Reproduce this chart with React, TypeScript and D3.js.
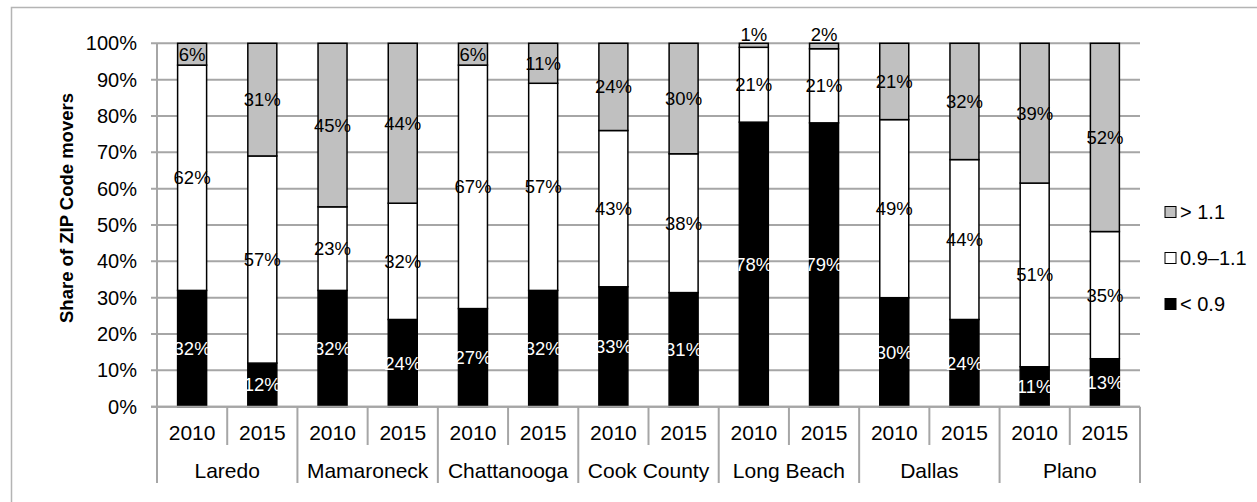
import React, { useRef, useEffect } from 'react';
import * as d3 from 'd3';

const cities = ['Laredo', 'Mamaroneck', 'Chattanooga', 'Cook County', 'Long Beach', 'Dallas', 'Plano'];
const years = ['2010', '2015'];

// one entry per bar, city-major order
const below09 = [32, 12, 32, 24, 27, 32, 33, 31.4, 78.3, 78.5, 30, 24, 11, 13.2];
const mid = [62, 57, 23, 32, 67, 57, 43, 38.2, 20.6, 20.5, 49, 44, 50.6, 35];
const above11 = [6, 31, 45, 44, 6, 11, 24, 30.4, 1.1, 1.5, 21, 32, 38.5, 51.8];

const seriesKeys = ['low', 'mid', 'high'];
const seriesNames = ['< 0.9', '0.9–1.1', '> 1.1'];
const seriesColors = ['#000000', '#ffffff', '#c0c0c0'];
const yTicks = [0, 0.1, 0.2, 0.3, 0.4, 0.5, 0.6, 0.7, 0.8, 0.9, 1];

type Row = { id: string; city: string; year: string; low: number; mid: number; high: number };

const rows: Row[] = [];
cities.forEach((c, ci) => {
  years.forEach((yr, yi) => {
    const i = ci * 2 + yi;
    rows.push({ id: c + '-' + yr, city: c, year: yr, low: below09[i], mid: mid[i], high: above11[i] });
  });
});

const Chart: React.FC = () => {
  const svgRef = useRef<SVGSVGElement | null>(null);

  useEffect(() => {
    if (!svgRef.current) return;
    const svg = d3.select(svgRef.current);
    svg.selectAll('*').remove();

    const width = 1257;
    const height = 502;
    const left = 157, right = 1140, top = 43.3, bottom = 406.7;
    const font = '"Liberation Sans", Arial, sans-serif';
    const grid = '#a6a6a6';

    // outer frame (runs off the picture on the right and bottom)
    svg.append('rect')
      .attr('x', 11.5).attr('y', 7.5)
      .attr('width', 1300).attr('height', 600)
      .attr('fill', 'white').attr('stroke', '#b4b4b4').attr('stroke-width', 1.5);

    const x = d3.scaleBand()
      .domain(rows.map(d => d.id))
      .range([left, right])
      .paddingInner(0)
      .paddingOuter(0);

    const y = d3.scaleLinear().domain([0, 1]).range([bottom, top]);

    // gridlines
    svg.append('g')
      .selectAll('line')
      .data(yTicks)
      .join('line')
      .attr('x1', left - 6).attr('x2', right)
      .attr('y1', d => y(d)).attr('y2', d => y(d))
      .attr('stroke', grid).attr('stroke-width', 2);

    svg.append('line')
      .attr('x1', left).attr('x2', left)
      .attr('y1', top).attr('y2', bottom)
      .attr('stroke', grid).attr('stroke-width', 2);

    // y tick labels
    svg.append('g')
      .selectAll('text')
      .data(yTicks)
      .join('text')
      .attr('x', 137)
      .attr('y', d => y(d))
      .attr('dy', '0.35em')
      .attr('text-anchor', 'end')
      .attr('font-family', font)
      .attr('font-size', 20)
      .attr('fill', '#000')
      .text(d => d3.format('.0%')(d));

    // y title
    svg.append('text')
      .attr('transform', 'translate(73,208) rotate(-90)')
      .attr('text-anchor', 'middle')
      .attr('font-family', font)
      .attr('font-size', 18.5)
      .attr('font-weight', 'bold')
      .attr('fill', '#000')
      .text('Share of ZIP Code movers');

    // stacked bars
    const stack = d3.stack<Row>().keys(seriesKeys).offset(d3.stackOffsetExpand);
    const layers = stack(rows);
    const bw = 29;

    const layerG = svg.append('g')
      .selectAll('g')
      .data(layers)
      .join('g')
      .attr('fill', (_, i) => seriesColors[i]);

    layerG.selectAll('rect')
      .data(d => d)
      .join('rect')
      .attr('x', d => x(d.data.id)! + x.bandwidth() / 2 - bw / 2)
      .attr('width', bw)
      .attr('y', d => y(d[1]))
      .attr('height', d => y(d[0]) - y(d[1]))
      .attr('stroke', '#000')
      .attr('stroke-width', 1.5);

    // data labels
    layers.forEach((layer, li) => {
      svg.append('g')
        .selectAll('text')
        .data(layer)
        .join('text')
        .attr('x', d => x(d.data.id)! + x.bandwidth() / 2)
        .attr('y', d => {
          const share = d[1] - d[0];
          if (share < 0.03) return y(d[1]) - 9;
          return y((d[0] + d[1]) / 2);
        })
        .attr('dy', '0.35em')
        .attr('text-anchor', 'middle')
        .attr('font-family', font)
        .attr('font-size', 18.5)
        .attr('fill', li === 0 ? '#fff' : '#000')
        .text(d => Math.round((d.data as any)[seriesKeys[li]]) + '%');
    });

    // x axis
    svg.append('line')
      .attr('x1', left - 6).attr('x2', right)
      .attr('y1', bottom).attr('y2', bottom)
      .attr('stroke', grid).attr('stroke-width', 2);

    const xa = svg.append('g');
    rows.forEach((r, i) => {
      const x0 = x(r.id)!;
      const isCityEdge = i % 2 === 0;
      xa.append('line')
        .attr('x1', x0).attr('x2', x0)
        .attr('y1', bottom).attr('y2', isCityEdge ? 483 : 445)
        .attr('stroke', grid).attr('stroke-width', 2);
    });
    xa.append('line')
      .attr('x1', right).attr('x2', right)
      .attr('y1', bottom).attr('y2', 483)
      .attr('stroke', grid).attr('stroke-width', 2);

    xa.selectAll('text.year')
      .data(rows)
      .join('text')
      .attr('class', 'year')
      .attr('x', d => x(d.id)! + x.bandwidth() / 2)
      .attr('y', 440)
      .attr('text-anchor', 'middle')
      .attr('font-family', font)
      .attr('font-size', 21)
      .attr('fill', '#000')
      .text(d => d.year);

    xa.selectAll('text.city')
      .data(cities)
      .join('text')
      .attr('class', 'city')
      .attr('x', c => x(c + '-2010')! + x.bandwidth())
      .attr('y', 478)
      .attr('text-anchor', 'middle')
      .attr('font-family', font)
      .attr('font-size', 21)
      .attr('fill', '#000')
      .text(c => c);

    // legend, top item is the top series
    const legendOrder = [2, 1, 0];
    const lg = svg.append('g')
      .selectAll('g')
      .data(legendOrder)
      .join('g')
      .attr('transform', (_, i) => `translate(1165,${212 + i * 46})`);

    lg.append('rect')
      .attr('x', 0).attr('y', -5.5)
      .attr('width', 11).attr('height', 11)
      .attr('fill', d => seriesColors[d])
      .attr('stroke', '#000')
      .attr('stroke-width', 1);

    lg.append('text')
      .attr('x', 15)
      .attr('y', 0)
      .attr('dy', '0.35em')
      .attr('font-family', font)
      .attr('font-size', 20)
      .attr('fill', '#000')
      .text(d => seriesNames[d]);
  }, []);

  return (
    <svg ref={svgRef} width={1257} height={502}
      style={{ position: 'absolute', left: 0, top: 0, background: '#fff' }} />
  );
};

export default function App() {
  return <Chart />;
}
